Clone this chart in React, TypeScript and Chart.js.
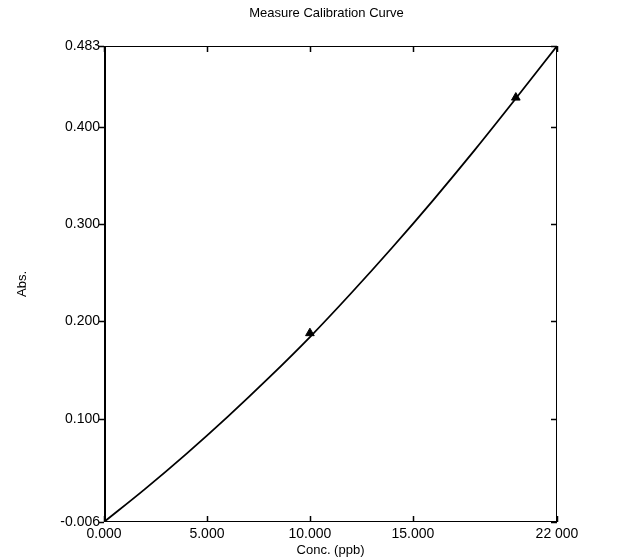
import { useEffect, useRef } from "react";
import { Chart, registerables } from "chart.js";

Chart.register(...registerables);

// Calibration curve
const curveConc = [0, 2, 4, 6, 8, 10, 12, 14, 16, 18, 20, 22];
const curveAbs = [-0.006, 0.028, 0.064, 0.102, 0.142, 0.184, 0.229, 0.276, 0.325, 0.376, 0.429, 0.483];

// Standards (triangles)
const stdConc = [10, 20];
const stdAbs = [0.188, 0.43];

// Axis ticks
const xTickValues = [0, 5, 10, 15, 22];
const xTickLabels = ["0.000", "5.000", "10.000", "15.000", "22 000"];
const yTickValues = [-0.006, 0.1, 0.2, 0.3, 0.4, 0.483];
const yTickLabels = ["-0.006", "0.100", "0.200", "0.300", "0.400", "0.483"];

const TITLE = "Measure Calibration Curve";
const FONT = "'Liberation Sans', Arial, sans-serif";

const framePlugin = {
  id: "frame",
  afterDraw(chart: any) {
    const { ctx, chartArea } = chart;
    const { left, right, top, bottom } = chartArea;
    const xs = chart.scales.x;
    const ys = chart.scales.y;
    ctx.save();
    // title centred over the plot area
    ctx.fillStyle = "#000";
    ctx.font = `13px ${FONT}`;
    ctx.textAlign = "center";
    ctx.textBaseline = "middle";
    ctx.fillText(TITLE, (left + right) / 2 - 4, 13);

    ctx.strokeStyle = "#000";
    ctx.lineWidth = 1;
    ctx.beginPath();
    ctx.moveTo(left, top + 0.5);
    ctx.lineTo(right, top + 0.5);
    ctx.moveTo(right - 0.5, top);
    ctx.lineTo(right - 0.5, bottom);
    ctx.moveTo(left, bottom - 0.5);
    ctx.lineTo(right, bottom - 0.5);
    ctx.stroke();
    ctx.lineWidth = 2;
    ctx.beginPath();
    ctx.moveTo(left + 1, top);
    ctx.lineTo(left + 1, bottom);
    ctx.stroke();
    ctx.lineWidth = 1.5;
    ctx.beginPath();
    xTickValues.forEach((v) => {
      const px = Math.round(xs.getPixelForValue(v)) + 0.5;
      ctx.moveTo(px, top);
      ctx.lineTo(px, top + 6);
      ctx.moveTo(px, bottom);
      ctx.lineTo(px, bottom - 6);
    });
    yTickValues.forEach((v) => {
      const py = Math.round(ys.getPixelForValue(v)) + 0.5;
      ctx.moveTo(left, py);
      ctx.lineTo(left - 5, py);
      ctx.moveTo(right, py);
      ctx.lineTo(right - 6, py);
    });
    ctx.stroke();
    ctx.restore();
  },
};

export default function App() {
  const ref = useRef<HTMLCanvasElement | null>(null);

  useEffect(() => {
    document.body.style.margin = "0";
    const canvas = ref.current;
    if (!canvas) return;
    const chart = new Chart(canvas, {
      type: "scatter",
      data: {
        datasets: [
          {
            label: "Curve",
            data: curveConc.map((x, i) => ({ x, y: curveAbs[i] })),
            showLine: true,
            borderColor: "#000",
            borderWidth: 1.8,
            pointRadius: 0,
            cubicInterpolationMode: "monotone",
            fill: false,
          },
          {
            label: "Standards",
            data: stdConc.map((x, i) => ({ x, y: stdAbs[i] })),
            showLine: false,
            pointStyle: "triangle",
            pointRadius: 5,
            backgroundColor: "#000",
            borderColor: "#000",
            borderWidth: 1,
          },
        ],
      },
      options: {
        animation: false,
        responsive: false,
        maintainAspectRatio: false,
        layout: { padding: { left: 0, right: 66, top: 46, bottom: 0 } },
        plugins: {
          legend: { display: false },
          tooltip: { enabled: false },
          title: { display: false },
        },
        scales: {
          x: {
            type: "linear",
            min: 0,
            max: 22,
            afterBuildTicks: (scale: any) => {
              scale.ticks = xTickValues.map((value) => ({ value }));
            },
            afterFit: (scale: any) => {
              scale.height = 38;
            },
            ticks: {
              color: "#000",
              font: { family: FONT, size: 14 },
              padding: 4,
              maxRotation: 0,
              autoSkip: false,
              callback: (_v: any, i: number) => xTickLabels[i],
            },
            grid: { display: false, drawTicks: false },
            border: { display: false },
            title: {
              display: true,
              text: "Conc. (ppb)",
              color: "#000",
              font: { family: FONT, size: 13 },
              padding: { top: 0, bottom: 2 },
            },
          },
          y: {
            type: "linear",
            min: -0.006,
            max: 0.483,
            afterBuildTicks: (scale: any) => {
              scale.ticks = yTickValues.map((value) => ({ value }));
            },
            afterFit: (scale: any) => {
              scale.width = 104;
            },
            ticks: {
              color: "#000",
              font: { family: FONT, size: 14 },
              padding: 4,
              autoSkip: false,
              callback: (_v: any, i: number) => yTickLabels[i],
            },
            grid: { display: false, drawTicks: false },
            border: { display: false },
            title: {
              display: true,
              text: "Abs.",
              color: "#000",
              font: { family: FONT, size: 13 },
              padding: { top: 15, bottom: 0 },
            },
          },
        },
      },
      plugins: [framePlugin],
    } as any);
    return () => chart.destroy();
  }, []);

  return (
    <div style={{ width: 623, height: 560, background: "#fff" }}>
      <canvas ref={ref} width={623} height={560} style={{ display: "block" }} />
    </div>
  );
}
